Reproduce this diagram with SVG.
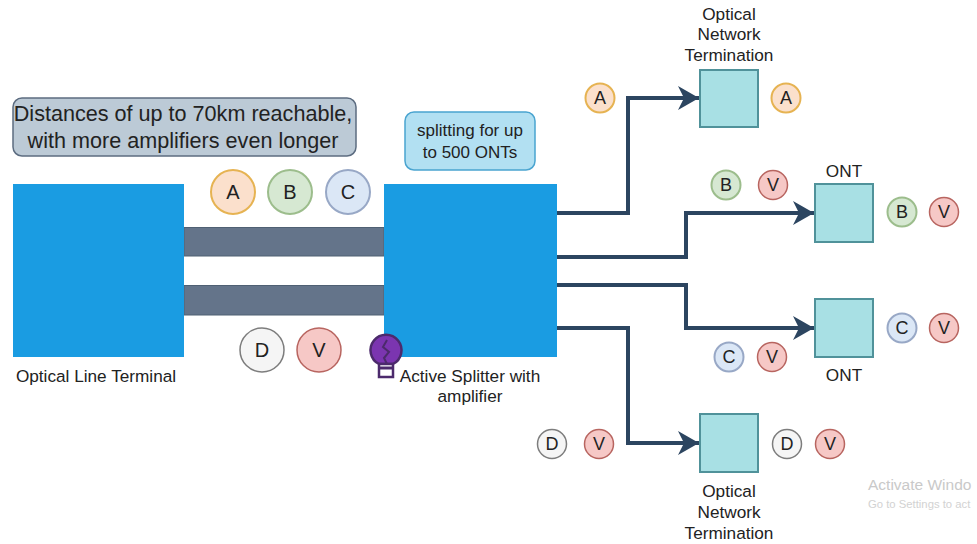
<svg xmlns="http://www.w3.org/2000/svg" width="977" height="544" viewBox="0 0 977 544">
<defs>
<marker id="arrow" markerUnits="userSpaceOnUse" markerWidth="22" markerHeight="26" refX="21" refY="13" orient="auto"><path d="M0,1 L21,13 L0,25 L6,13 Z" fill="#2c4560"/></marker>
</defs>
<style>
text{font-family:"Liberation Sans",Arial,sans-serif;fill:#222;text-anchor:middle}
.l{font-size:17.2px}
.block{fill:#1a9ce2}
.fiber{fill:#64748a;stroke:#4f6073;stroke-width:1}
.ont{fill:#a8e0e4;stroke:#50929a;stroke-width:2}
.conn{fill:none;stroke:#2c4560;stroke-width:4;marker-end:url(#arrow)}
.a{fill:#fbe0cc;stroke:#e6b352;stroke-width:2}
.b{fill:#d6e8d2;stroke:#9cbd8c;stroke-width:2}
.c{fill:#dbe7f6;stroke:#98a8c6;stroke-width:2}
.d{fill:#f5f5f5;stroke:#7d7d7d;stroke-width:1.5}
.v{fill:#f6c8c6;stroke:#b86560;stroke-width:1.5}
.s{font-size:18px}
.m{font-size:20px}
</style>
<g id="connectors">
<path class="conn" d="M557,213 H628 V98 H699"/>
<path class="conn" d="M557,257 H686 V213 H814"/>
<path class="conn" d="M557,285 H686 V328 H814"/>
<path class="conn" d="M557,328 H628 V443 H699"/>
</g>
<g id="fiber-top"><rect class="fiber" x="184" y="227.500" width="200" height="28.500"/></g>
<g id="fiber-bottom"><rect class="fiber" x="184" y="285.500" width="200" height="29.500"/></g>
<g id="olt"><rect class="block" x="13" y="184" width="171" height="173"/><text class="l" x="96" y="382">Optical Line Terminal</text></g>
<g id="splitter"><rect class="block" x="384" y="184" width="173" height="173"/><text class="l"><tspan x="470" y="382">Active Splitter with</tspan><tspan x="470" y="402">amplifier</tspan></text></g>
<g id="distance-note"><rect x="13" y="98" width="343" height="58" rx="9" fill="#bccad6" stroke="#5c6c80" stroke-width="1.5"/><text font-size="21.6"><tspan x="183" y="121">Distances of up to 70km reachable,</tspan><tspan x="183" y="148">with more amplifiers even longer</tspan></text></g>
<g id="split-note"><rect x="405" y="112" width="130" height="58" rx="9" fill="#b2e0f2" stroke="#4aa4d0" stroke-width="1.5"/><text font-size="17"><tspan x="470" y="136">splitting for up</tspan><tspan x="470" y="158">to 500 ONTs</tspan></text></g>
<g id="ont-a"><rect class="ont" x="700" y="70" width="58" height="57"/><text class="l"><tspan x="729" y="20">Optical</tspan><tspan x="729" y="40">Network</tspan><tspan x="729" y="61">Termination</tspan></text></g>
<g id="ont-b"><rect class="ont" x="815" y="184" width="58" height="58"/><text class="l" x="844" y="177">ONT</text></g>
<g id="ont-c"><rect class="ont" x="815" y="299" width="58" height="58"/><text class="l" x="844" y="381">ONT</text></g>
<g id="ont-d"><rect class="ont" x="700" y="414" width="58" height="58"/><text class="l"><tspan x="729" y="497">Optical</tspan><tspan x="729" y="518">Network</tspan><tspan x="729" y="539">Termination</tspan></text></g>
<g id="bulb" fill="none" stroke="#4c2a6c" stroke-width="2.500"><path d="M379,364 A15.500,15.500 0 1 1 393,364 Z" fill="#7b35b0"/><rect x="379" y="364" width="14" height="13" fill="#fff"/><path d="M379,368 H393" stroke-width="3"/><path d="M387,340 L383,347 L389,352 L384,358 L387,364" stroke-width="2"/></g>
<g id="legend-olt">
<circle class="a" cx="233" cy="192" r="22"/><text class="m" x="233" y="199">A</text>
<circle class="b" cx="290" cy="192" r="22"/><text class="m" x="290" y="199">B</text>
<circle class="c" cx="348" cy="192" r="22"/><text class="m" x="348" y="199">C</text>
<circle class="d" cx="262" cy="350" r="22"/><text class="m" x="262" y="357">D</text>
<circle class="v" cx="319" cy="350" r="22"/><text class="m" x="319" y="357">V</text>
</g>
<g id="legend-right">
<circle class="a" cx="600" cy="98" r="14.500"/><text class="s" x="600" y="104">A</text>
<circle class="a" cx="786" cy="98" r="14.500"/><text class="s" x="786" y="104">A</text>
<circle class="b" cx="726" cy="185" r="14.500"/><text class="s" x="726" y="191">B</text>
<circle class="v" cx="773" cy="185" r="14.500"/><text class="s" x="773" y="191">V</text>
<circle class="b" cx="902" cy="212" r="14.500"/><text class="s" x="902" y="218">B</text>
<circle class="v" cx="944" cy="212" r="14.500"/><text class="s" x="944" y="218">V</text>
<circle class="c" cx="902" cy="328" r="14.500"/><text class="s" x="902" y="334">C</text>
<circle class="v" cx="944" cy="328" r="14.500"/><text class="s" x="944" y="334">V</text>
<circle class="c" cx="729" cy="357" r="14.500"/><text class="s" x="729" y="363">C</text>
<circle class="v" cx="772" cy="357" r="14.500"/><text class="s" x="772" y="363">V</text>
<circle class="d" cx="552" cy="444" r="14.500"/><text class="s" x="552" y="450">D</text>
<circle class="v" cx="599" cy="444" r="14.500"/><text class="s" x="599" y="450">V</text>
<circle class="d" cx="787" cy="444" r="14.500"/><text class="s" x="787" y="450">D</text>
<circle class="v" cx="830" cy="444" r="14.500"/><text class="s" x="830" y="450">V</text>
</g>
<g id="watermark">
<text x="868" y="490" font-size="15.500" style="text-anchor:start;fill:#c9c9c9">Activate Windo</text>
<text x="868" y="508" font-size="11.300" style="text-anchor:start;fill:#d2d2d2">Go to Settings to act</text>
</g>
</svg>
